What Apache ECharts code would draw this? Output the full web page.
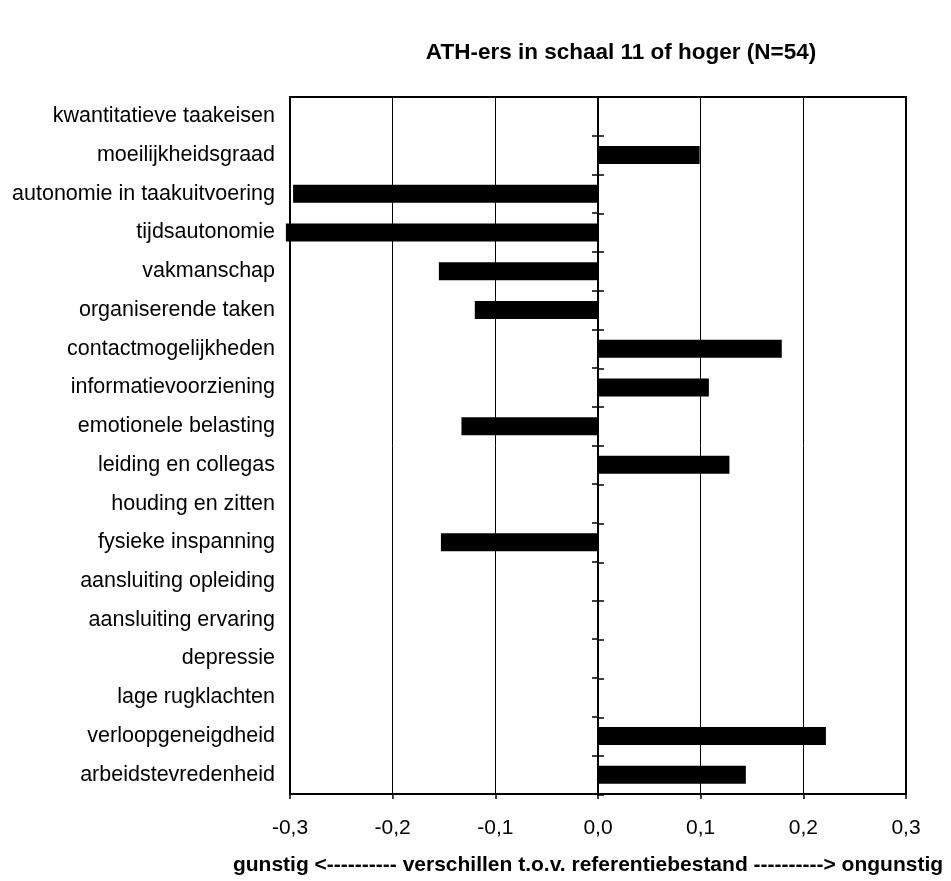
<!DOCTYPE html>
<html lang="nl">
<head>
<meta charset="UTF-8">
<title>ATH-ers in schaal 11 of hoger</title>
<script src="https://cdn.jsdelivr.net/npm/echarts@6/dist/echarts.min.js"></script>
<style>
  html, body { margin: 0; padding: 0; background: #fff; }
  #chart { width: 951px; height: 881px; }
</style>
</head>
<body>
<div id="chart"></div>
<script>
var categories = [
  'kwantitatieve taakeisen', 'moeilijkheidsgraad', 'autonomie in taakuitvoering',
  'tijdsautonomie', 'vakmanschap', 'organiserende taken', 'contactmogelijkheden',
  'informatievoorziening', 'emotionele belasting', 'leiding en collegas',
  'houding en zitten', 'fysieke inspanning', 'aansluiting opleiding',
  'aansluiting ervaring', 'depressie', 'lage rugklachten',
  'verloopgeneigdheid', 'arbeidstevredenheid'
];
var verschillen = [
  0, 0.099, -0.297, -0.304, -0.155, -0.120, 0.179, 0.108, -0.133, 0.128,
  0, -0.153, 0, 0, 0, 0, 0.222, 0.144
];
var xTicks = [-0.3, -0.2, -0.1, 0.0, 0.1, 0.2, 0.3];

var font = 'Liberation Sans, Arial, sans-serif';
var chart = echarts.init(document.getElementById('chart'));

var gridBox = { left: 290, right: 45, top: 97, bottom: 86 };

// zero line with ticks crossing it: one axis ticks to the left, one (in an overlay grid) to the right
function zeroAxis(pos, gridIndex) {
  return {
    type: 'category', data: categories, inverse: true, position: pos, gridIndex: gridIndex,
    axisLine: { onZero: true, lineStyle: { color: '#000', width: 2 } },
    axisTick: { show: true, length: 6, lineStyle: { color: '#000', width: 1.5 } },
    axisLabel: { show: false },
    splitLine: { show: false }
  };
}

chart.setOption({
  animation: false,
  title: {
    text: 'ATH-ers in schaal 11 of hoger (N=54)',
    left: 616, top: 36, textAlign: 'center',
    textStyle: { fontFamily: font, fontSize: 22.5, fontWeight: 'bold', color: '#000' }
  },
  grid: [
    Object.assign({ show: true, borderColor: '#000', borderWidth: 2, containLabel: false }, gridBox),
    Object.assign({ show: false, containLabel: false }, gridBox)
  ],
  xAxis: [
    {
      type: 'value', gridIndex: 0,
      min: xTicks[0], max: xTicks[xTicks.length - 1], interval: 0.1,
      name: 'gunstig <---------- verschillen t.o.v. referentiebestand ----------> ongunstig',
      nameLocation: 'middle', nameGap: 61,
      nameTextStyle: { fontFamily: font, fontSize: 21, fontWeight: 'bold', color: '#000', padding: [0, 20, 0, 0] },
      axisLine: { onZero: false, lineStyle: { color: '#000', width: 2 } },
      axisTick: { show: true, length: 5, lineStyle: { color: '#000', width: 1.5 } },
      axisLabel: {
        margin: 24, fontFamily: font, fontSize: 21, color: '#000',
        formatter: function (v) { return v.toFixed(1).replace('.', ','); }
      },
      splitLine: { show: true, lineStyle: { color: '#000', width: 1 } }
    },
    {
      type: 'value', gridIndex: 1, show: false,
      min: xTicks[0], max: xTicks[xTicks.length - 1], interval: 0.1
    }
  ],
  yAxis: [
    {
      type: 'category', data: categories, inverse: true, position: 'left', gridIndex: 0,
      axisLine: { show: false, onZero: false },
      axisTick: { show: false },
      axisLabel: { margin: 15, fontFamily: font, fontSize: 21.5, color: '#000' },
      splitLine: { show: false }
    },
    zeroAxis('left', 0),
    zeroAxis('right', 1)
  ],
  series: [{
    type: 'bar',
    xAxisIndex: 0,
    yAxisIndex: 0,
    data: verschillen,
    barWidth: 18,
    clip: false,
    itemStyle: { color: '#000' }
  }]
});
</script>
</body>
</html>
